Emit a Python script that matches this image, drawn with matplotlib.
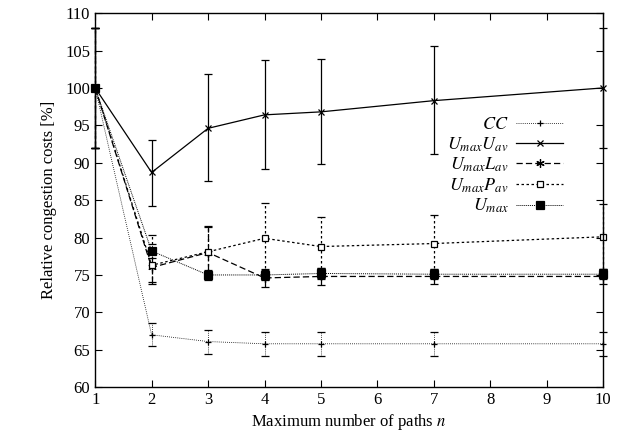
import matplotlib
matplotlib.use('Agg')
import matplotlib.pyplot as plt
from matplotlib.lines import Line2D

plt.rcParams['font.family'] = ['Liberation Serif', 'DejaVu Serif']
plt.rcParams['mathtext.fontset'] = 'stix'
plt.rcParams['font.size'] = 12

n = [1, 2, 3, 4, 5, 7, 10]

cc = [100, 67.0, 66.1, 65.8, 65.8, 65.8, 65.8]
cc_lo = [92, 65.5, 64.5, 64.2, 64.2, 64.2, 64.2]
cc_hi = [108, 68.6, 67.7, 67.4, 67.4, 67.4, 67.4]

uav = [100, 88.7, 94.6, 96.4, 96.8, 98.3, 100]
uav_lo = [92, 84.2, 87.5, 89.2, 89.8, 91.2, 92]
uav_hi = [108, 93.1, 101.8, 103.7, 103.8, 105.6, 108]

lav = [100, 76.0, 78.0, 74.6, 74.8, 74.8, 74.8]
lav_lo = [92, 74.0, 74.5, 73.4, 73.7, 73.8, 73.8]
lav_hi = [108, 78.0, 81.5, 75.8, 75.9, 75.8, 75.8]

pav = [100, 76.3, 78.1, 79.9, 78.8, 79.2, 80.1]
pav_lo = [92, 73.8, 74.8, 75.2, 74.6, 75.2, 75.8]
pav_hi = [108, 80.3, 81.4, 84.6, 82.8, 83.0, 84.5]

umax = [100, 78.2, 75.0, 75.0, 75.2, 75.1, 75.1]
umax_lo = [92, 77.3, 74.3, 74.3, 74.5, 74.4, 74.4]
umax_hi = [108, 79.1, 75.7, 75.7, 75.9, 75.8, 75.8]

labels = ['$CC$', '$U_{max}U_{av}$', '$U_{max}L_{av}$', '$U_{max}P_{av}$', '$U_{max}$']

series = [
    (cc, cc_lo, cc_hi, dict(ls=(0, (1, 1.5)), lw=0.6, marker='+', ms=5, mfc='black')),
    (uav, uav_lo, uav_hi, dict(ls='-', lw=0.9, marker='x', ms=5, mfc='black')),
    (lav, lav_lo, lav_hi, dict(ls=(0, (5, 2.5)), lw=0.9, marker=(6, 2, 0), ms=6, mfc='black')),
    (pav, pav_lo, pav_hi, dict(ls=(0, (2, 2)), lw=0.9, marker='s', ms=5, mfc='white')),
    (umax, umax_lo, umax_hi, dict(ls=(0, (1, 1)), lw=0.7, marker='s', ms=6, mfc='black')),
]

fig = plt.figure(figsize=(6.18, 4.37), dpi=100)
ax = fig.add_axes([0.154, 0.114, 0.822, 0.856])

handles = []
for (y, lo, hi, st), lab in zip(series, labels):
    yerr = [[v - l for v, l in zip(y, lo)], [h - v for v, h in zip(y, hi)]]
    cont = ax.errorbar(n, y, yerr=yerr, color='black', capsize=3, elinewidth=st['lw'],
                       ls=st['ls'], lw=st['lw'], marker=st['marker'], ms=st['ms'],
                       mfc=st['mfc'], mec='black', mew=0.9)
    cont[2][0].set_linestyle(st['ls'])
    for art in [cont[0]] + list(cont[1]) + list(cont[2]):
        art.set_clip_on(False)
    handles.append(Line2D([], [], color='black', ls=st['ls'], lw=st['lw'], marker=st['marker'],
                          ms=st['ms'], mfc=st['mfc'], mec='black', mew=0.9))

ax.set_xlim(1, 10)
ax.set_ylim(60, 110)
ax.set_xticks(range(1, 11))
ax.set_yticks(range(60, 111, 5))
ax.tick_params(direction='in', top=True, right=True, length=5, labelsize=12)
for s in ax.spines.values():
    s.set_linewidth(1.0)

ax.set_xlabel('Maximum number of paths $n$', fontsize=12, labelpad=3)
ax.set_ylabel('Relative congestion costs [%]', fontsize=12, labelpad=6)

ax.legend(handles, labels, loc='upper right', bbox_to_anchor=(0.921, 0.725), frameon=False,
          markerfirst=False, handlelength=2.6, fontsize=13, labelspacing=0.12,
          handletextpad=0.4, borderpad=0, borderaxespad=0)

fig.savefig('out.png', dpi=100)
